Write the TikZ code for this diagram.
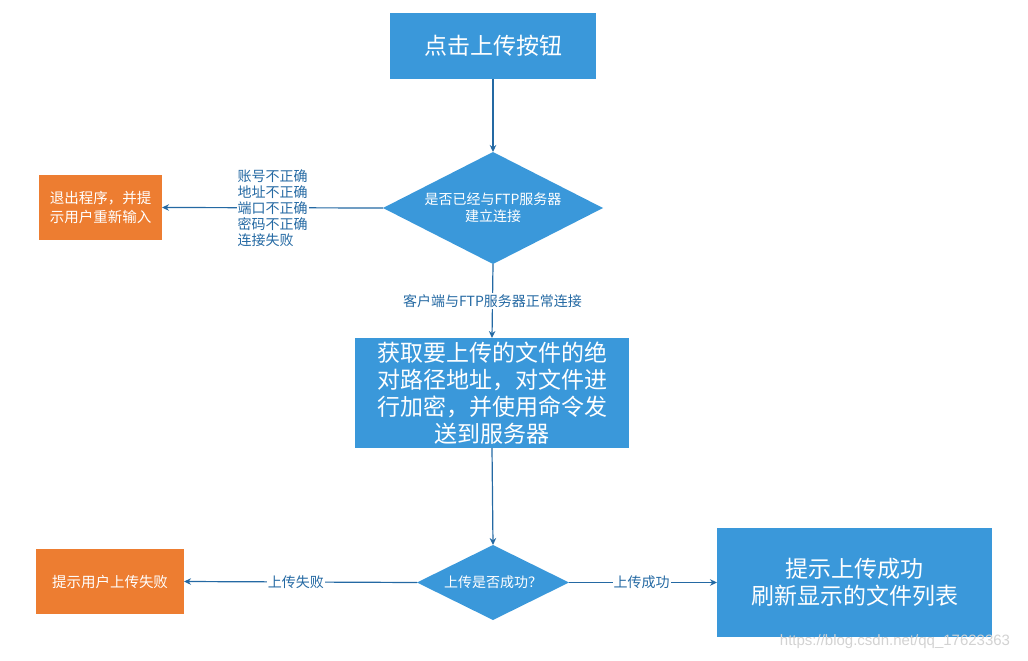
\documentclass[tikz,border=0pt]{standalone}
\usepackage{fontspec}
\setmainfont{Noto Sans CJK SC}
\newfontfamily\wmfont{Liberation Sans}
\usetikzlibrary{shapes.geometric,arrows.meta}
\definecolor{boxblue}{HTML}{3A98DA}
\definecolor{boxorange}{HTML}{ED7D31}
\definecolor{linecol}{HTML}{2469A3}
\tikzset{
  bluebox/.style={fill=boxblue, text=white, inner sep=0pt, outer sep=0pt, align=center},
  orangebox/.style={fill=boxorange, text=white, inner sep=0pt, outer sep=0pt, align=center,
    font=\fontsize{14.5}{18.5}\selectfont},
  decision/.style={diamond, fill=boxblue, text=white, inner sep=0pt, outer sep=0pt,
    shape aspect=2, align=center},
  bigtext/.style={font=\fontsize{23}{27}\selectfont},
  smalltext/.style={font=\fontsize{14}{17}\selectfont},
  conn/.style={draw=linecol, line width=1.2pt, -{Stealth[length=7pt,width=6.5pt]}},
  lbl/.style={fill=white, text=linecol, inner sep=1pt, font=\fontsize{14}{16}\selectfont}
}
\begin{document}
\begin{tikzpicture}[x=1pt,y=-1pt]
\useasboundingbox (0,0) rectangle (1028,661);

\node[bluebox, bigtext, minimum width=206pt, minimum height=66pt] (start) at (493,46) {点击上传按钮};

\node[decision, smalltext, minimum width=220pt, minimum height=112pt] (d1) at (493,208)
  {是否已经与FTP服务器\\建立连接};

\node[orangebox, minimum width=123pt, minimum height=65pt] (exit) at (100.5,207.5)
  {退出程序，并提\\示用户重新输入};

\node[bluebox, bigtext, minimum width=274pt, minimum height=110pt] (proc) at (492,393)
  {获取要上传的文件的绝\\对路径地址，对文件进\\行加密，并使用命令发\\送到服务器};

\node[decision, smalltext, minimum width=152pt, minimum height=75pt] (d2) at (493,582.5)
  {上传是否成功？};

\node[orangebox, minimum width=148pt, minimum height=65pt] (fail) at (110,581.5)
  {提示用户上传失败};

\node[bluebox, bigtext, minimum width=275pt, minimum height=109pt] (ok) at (854.5,582.5)
  {提示上传成功\\刷新显示的文件列表};

\draw[conn] (start.south) -- (d1.north);
\draw[conn] (d1.west) -- node[lbl, align=left] {账号不正确\\地址不正确\\端口不正确\\密码不正确\\连接失败} (exit.east);
\draw[conn] (d1.south) -- node[lbl, pos=0.5] {客户端与FTP服务器正常连接} (proc.north);
\draw[conn] (proc.south) -- (d2.north);
\draw[conn] (d2.west) -- node[lbl, pos=0.52] {上传失败} (fail.east);
\draw[conn] (d2.east) -- node[lbl, pos=0.49] {上传成功} (ok.west);

\node[text=gray!35, font=\wmfont\fontsize{15}{17}\selectfont, inner sep=0pt] (wm) at (895,642)
  {https://blog.csdn.net/qq\_17623363};
\end{tikzpicture}
\end{document}
